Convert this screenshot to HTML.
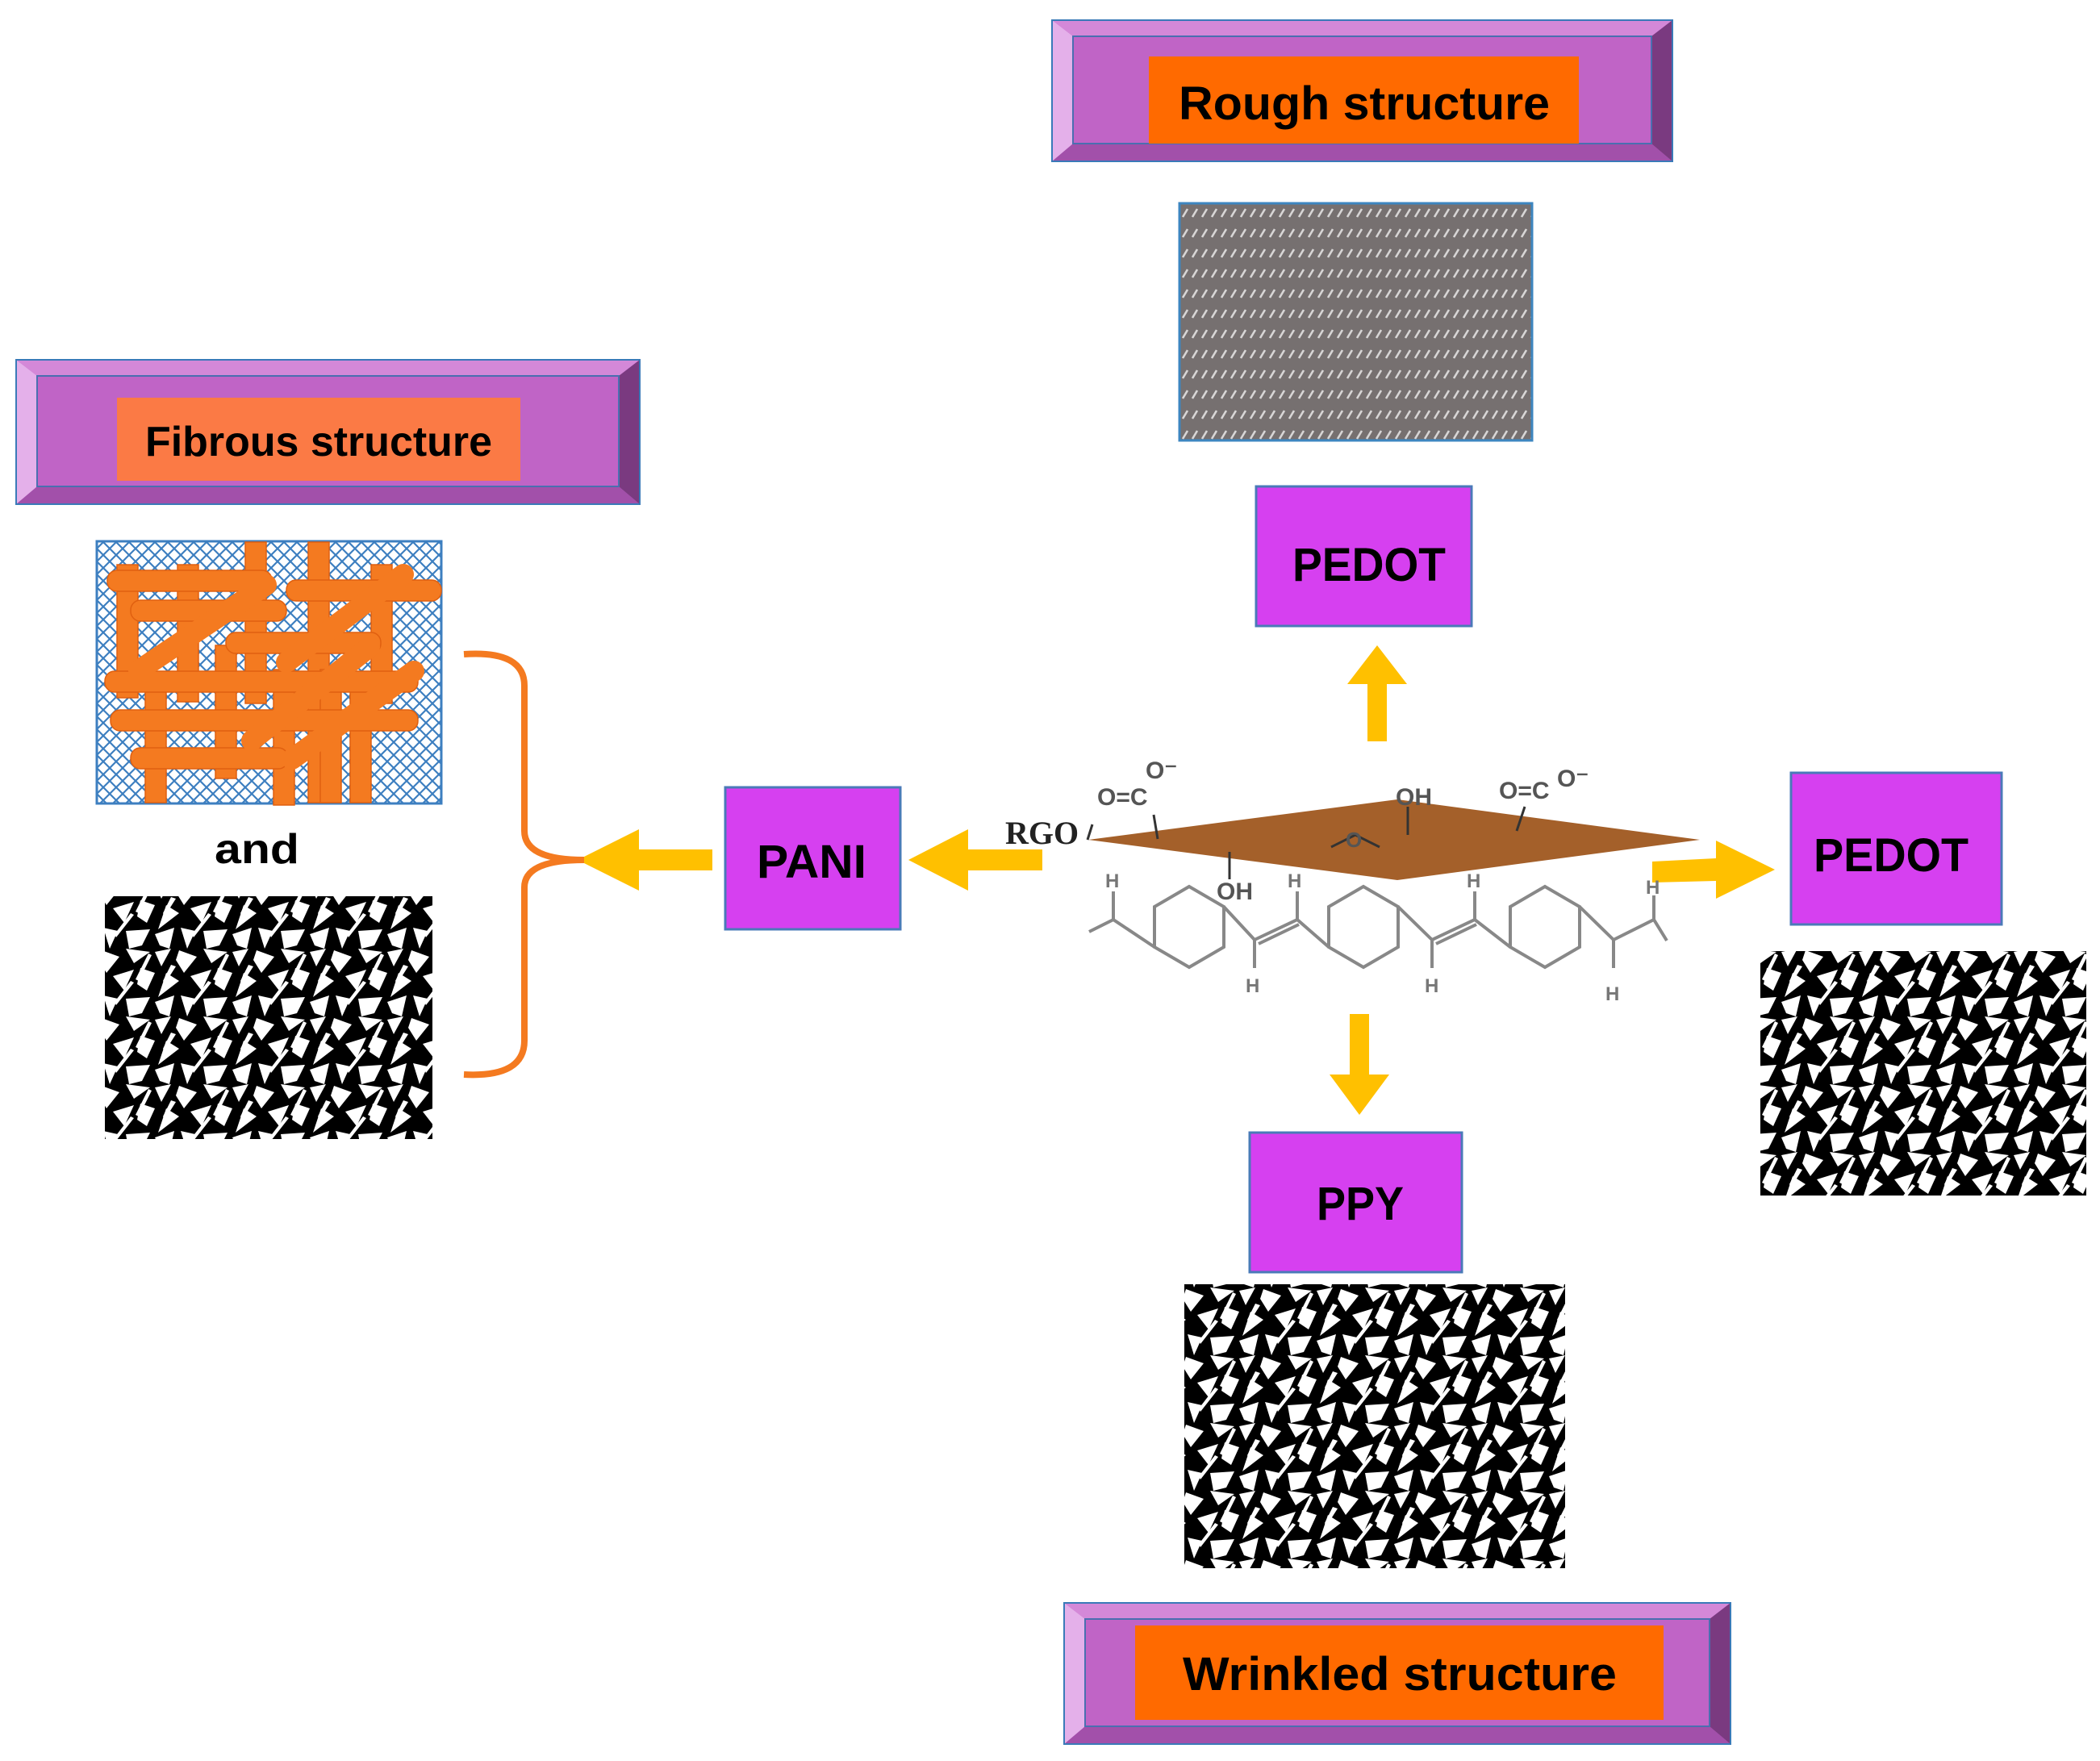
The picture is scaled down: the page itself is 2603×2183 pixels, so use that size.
<!DOCTYPE html>
<html><head><meta charset="utf-8"><style>
html,body{margin:0;padding:0;background:#fff;}
svg{display:block;}
text{font-family:"Liberation Sans",sans-serif;font-weight:bold;}
</style></head><body>
<svg width="2603" height="2183" viewBox="0 0 2603 2183" xmlns="http://www.w3.org/2000/svg">
<defs>
<pattern id="rough" width="12" height="25" patternUnits="userSpaceOnUse">
<rect width="12" height="25" fill="#767070"/>
<line x1="2" y1="19" x2="8" y2="9" stroke="#d8d6d6" stroke-width="2.6"/>
</pattern>
<pattern id="mesh" width="16" height="16" patternUnits="userSpaceOnUse">
<rect width="16" height="16" fill="#fff"/>
<path d="M0,0 L16,16 M16,0 L0,16" stroke="#3d7fc0" stroke-width="2.2"/>
</pattern>
<pattern id="wrink" width="96" height="84" patternUnits="userSpaceOnUse">
<rect width="96" height="84" fill="#000"/>
<g fill="#fff">
<polygon points="0,4 20,0 8,22"/>
<polygon points="30,2 52,10 36,30 26,14"/>
<polygon points="60,0 90,4 70,18"/>
<polygon points="14,30 30,40 4,60"/>
<polygon points="44,34 70,26 58,52"/>
<polygon points="78,24 96,30 86,52 74,44"/>
<polygon points="0,66 24,58 18,84 6,80"/>
<polygon points="32,58 50,62 40,84"/>
<polygon points="60,62 90,60 80,80 64,84"/>
<polygon points="20,20 26,22 12,44 10,40"/>
<polygon points="66,40 70,42 48,70 46,66"/>
<polygon points="88,6 92,8 76,40 72,38"/>
</g>
</pattern>
</defs>

<!-- Banners -->
<g stroke="#3a7ab8" stroke-width="2">
<!-- Rough -->
<rect x="1304" y="25" width="769" height="175" fill="#c064c6"/>
<polygon points="1304,25 2073,25 2047,45 1330,45" fill="#d488d8" stroke="none"/>
<polygon points="1304,200 2073,200 2047,178 1330,178" fill="#a250aa" stroke="none"/>
<polygon points="1304,25 1330,45 1330,178 1304,200" fill="#e4b0ea" stroke="none"/>
<polygon points="2073,25 2047,45 2047,178 2073,200" fill="#7a3a80" stroke="none"/>
<rect x="1330" y="45" width="717" height="133" fill="none" stroke="#4a6fb0" stroke-width="2"/>
<rect x="1304" y="25" width="769" height="175" fill="none"/>
<rect x="1424" y="70" width="533" height="108" fill="#ff6a00" stroke="none"/>
<!-- Fibrous -->
<rect x="20" y="446" width="773" height="179" fill="#c064c6"/>
<polygon points="20,446 793,446 767,466 46,466" fill="#d488d8" stroke="none"/>
<polygon points="20,625 793,625 767,603 46,603" fill="#a250aa" stroke="none"/>
<polygon points="20,446 46,466 46,603 20,625" fill="#e4b0ea" stroke="none"/>
<polygon points="793,446 767,466 767,603 793,625" fill="#7a3a80" stroke="none"/>
<rect x="46" y="466" width="721" height="137" fill="none" stroke="#4a6fb0"/>
<rect x="20" y="446" width="773" height="179" fill="none"/>
<rect x="145" y="493" width="500" height="103" fill="#fb7a45" stroke="none"/>
<!-- Wrinkled -->
<rect x="1319" y="1987" width="826" height="175" fill="#c064c6"/>
<polygon points="1319,1987 2145,1987 2119,2007 1345,2007" fill="#d488d8" stroke="none"/>
<polygon points="1319,2162 2145,2162 2119,2140 1345,2140" fill="#a250aa" stroke="none"/>
<polygon points="1319,1987 1345,2007 1345,2140 1319,2162" fill="#e4b0ea" stroke="none"/>
<polygon points="2145,1987 2119,2007 2119,2140 2145,2162" fill="#7a3a80" stroke="none"/>
<rect x="1345" y="2007" width="774" height="133" fill="none" stroke="#4a6fb0"/>
<rect x="1319" y="1987" width="826" height="175" fill="none"/>
<rect x="1407" y="2015" width="655" height="117" fill="#ff6a00" stroke="none"/>
</g>
<text x="1461" y="148" font-size="58" textLength="460" lengthAdjust="spacingAndGlyphs" fill="#000">Rough structure</text>
<text x="180" y="565" font-size="52" textLength="430" lengthAdjust="spacingAndGlyphs" fill="#000">Fibrous structure</text>
<text x="1466" y="2095" font-size="58" textLength="538" lengthAdjust="spacingAndGlyphs" fill="#000">Wrinkled structure</text>

<!-- Rough texture -->
<rect x="1462" y="252" width="437" height="294" fill="url(#rough)" stroke="#3d86c0" stroke-width="3"/>

<!-- Purple boxes -->
<g fill="#d640f0" stroke="#4a7ab8" stroke-width="3">
<rect x="1557" y="603" width="267" height="173"/>
<rect x="899" y="976" width="217" height="176"/>
<rect x="2220" y="958" width="261" height="188"/>
<rect x="1549" y="1404" width="263" height="173"/>
</g>
<g font-size="58" fill="#000">
<text x="1602" y="720" textLength="190" lengthAdjust="spacingAndGlyphs">PEDOT</text>
<text x="938" y="1088" textLength="136" lengthAdjust="spacingAndGlyphs">PANI</text>
<text x="2248" y="1080" textLength="192" lengthAdjust="spacingAndGlyphs">PEDOT</text>
<text x="1632" y="1512" textLength="108" lengthAdjust="spacingAndGlyphs">PPY</text>
</g>

<!-- Arrows -->
<g fill="#ffc000">
<polygon points="1707,800 1744,848 1719,848 1719,919 1695,919 1695,848 1670,848"/>
<polygon points="716,1066 792,1028 792,1053 883,1053 883,1079 792,1079 792,1104"/>
<polygon points="1126,1066 1200,1028 1200,1053 1292,1053 1292,1079 1200,1079 1200,1104"/>
<polygon points="2200,1078 2127,1042 2127,1064 2048,1068 2048,1094 2127,1092 2127,1114"/>
<polygon points="1685,1382 1722,1332 1697,1332 1697,1257 1673,1257 1673,1332 1648,1332"/>
</g>

<!-- Bracket -->
<path d="M575,811 Q650,806 650,850 L650,1030 Q650,1066 724,1066 Q650,1066 650,1100 L650,1290 Q650,1336 575,1332" fill="none" stroke="#f47a20" stroke-width="8"/>

<!-- Fibrous image -->
<rect x="120" y="671" width="427" height="325" fill="url(#mesh)" stroke="#3d7fc0" stroke-width="3"/>
<g stroke="#e06010" stroke-width="1.5" fill="#f47a20">
<rect x="145" y="700" width="26" height="165"/>
<rect x="220" y="700" width="26" height="170"/>
<rect x="304" y="672" width="26" height="200"/>
<rect x="382" y="672" width="26" height="323"/>
<rect x="460" y="700" width="26" height="172"/>
<rect x="180" y="850" width="26" height="145"/>
<rect x="267" y="800" width="26" height="165"/>
<rect x="339" y="830" width="26" height="168"/>
<rect x="397" y="830" width="26" height="165"/>
<rect x="434" y="850" width="26" height="145"/>
<rect x="133" y="707" width="204" height="26" rx="12"/>
<rect x="355" y="719" width="192" height="26" rx="12"/>
<rect x="162" y="744" width="193" height="26" rx="12"/>
<rect x="280" y="784" width="192" height="26" rx="12"/>
<rect x="130" y="832" width="388" height="26" rx="12"/>
<rect x="137" y="880" width="381" height="26" rx="12"/>
<rect x="162" y="927" width="195" height="26" rx="12"/>
</g>
<g stroke="#f47a20" stroke-width="26" stroke-linecap="round">
<line x1="172" y1="831" x2="330" y2="725"/>
<line x1="355" y1="821" x2="500" y2="712"/>
<line x1="312" y1="918" x2="458" y2="802"/>
<line x1="362" y1="941" x2="513" y2="832"/>
</g>

<text x="266" y="1070" font-size="52" fill="#000" textLength="105" lengthAdjust="spacingAndGlyphs">and</text>

<!-- Wrinkled images -->
<rect x="130" y="1111" width="406" height="301" fill="url(#wrink)"/>
<rect x="2182" y="1179" width="404" height="303" fill="url(#wrink)"/>
<rect x="1468" y="1592" width="472" height="352" fill="url(#wrink)"/>

<!-- Molecule -->
<text x="1246" y="1046" font-family="Liberation Serif" font-size="40" fill="#222" style="font-family:'Liberation Serif',serif">RGO</text>
<g fill="none" stroke="#888" stroke-width="4">
<polygon points="1474,1099 1517,1124 1517,1174 1474,1199 1431,1174 1431,1124"/>
<polygon points="1690,1099 1733,1124 1733,1174 1690,1199 1647,1174 1647,1124"/>
<polygon points="1915,1099 1958,1124 1958,1174 1915,1199 1872,1174 1872,1124"/>
<polyline points="1350,1155 1380,1140 1431,1174"/>
<polyline points="1380,1140 1380,1105"/>
<polyline points="1517,1124 1555,1165 1608,1140 1647,1174"/>
<polyline points="1560,1170 1610,1146"/>
<polyline points="1555,1165 1555,1200"/>
<polyline points="1608,1140 1608,1105"/>
<polyline points="1733,1124 1775,1165 1828,1140 1872,1174"/>
<polyline points="1780,1170 1830,1146"/>
<polyline points="1775,1165 1775,1200"/>
<polyline points="1828,1140 1828,1105"/>
<polyline points="1958,1124 2000,1165 2050,1140 2066,1166"/>
<polyline points="2000,1165 2000,1200"/>
<polyline points="2050,1140 2050,1110"/>
</g>
<g font-size="24" fill="#777" font-weight="bold">
<text x="1370" y="1100">H</text><text x="1596" y="1100">H</text><text x="1818" y="1100">H</text><text x="2040" y="1108">H</text>
<text x="1544" y="1230">H</text><text x="1766" y="1230">H</text><text x="1990" y="1240">H</text>
</g>
<polygon points="1349,1041 1732,991 2107,1041 1732,1091" fill="#a4602a"/>
<g stroke="#333" stroke-width="3" fill="none">
<line x1="1348" y1="1041" x2="1354" y2="1022"/>
<line x1="1435" y1="1040" x2="1430" y2="1010"/>
<line x1="1524" y1="1056" x2="1524" y2="1090"/>
<polyline points="1650,1050 1680,1035 1710,1050"/>
<line x1="1745" y1="1035" x2="1745" y2="1000"/>
<line x1="1880" y1="1030" x2="1890" y2="1000"/>
</g>
<g font-size="30" fill="#555" font-weight="normal" style="font-weight:normal">
<text x="1360" y="998">O=C</text><text x="1420" y="965">O⁻</text>
<text x="1508" y="1115">OH</text>
<text x="1668" y="1050" font-size="26">O</text>
<text x="1730" y="998">OH</text>
<text x="1858" y="990">O=C</text><text x="1930" y="975">O⁻</text>
</g>
</svg>
</body></html>
